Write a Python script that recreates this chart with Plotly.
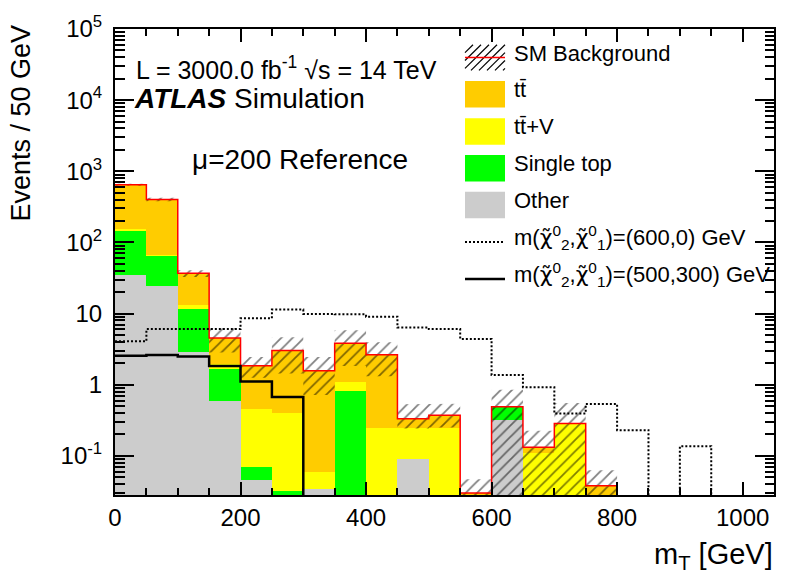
import plotly.graph_objects as go

# ---------------- data: 50 GeV bins from 0 to 1050 GeV ----------------
bin_lo = [0, 50, 100, 150, 200, 250, 300, 350, 400, 450, 500,
          550, 600, 650, 700, 750, 800, 850, 900, 950, 1000]
bin_width = 50

other = [34.8, 24.5, 2.88, 0.586, 0.046, 0.025, 0.034, 0.0, 0.0, 0.091, 0.0,
         0.0, 0.32, 0.0, 0.0, 0.0, 0.0, 0.0, 0.0, 0.0, 0.0]
single_top = [114.0, 40.8, 8.8, 1.10, 0.024, 0.0066, 0.0, 0.805, 0.0, 0.0, 0.0,
              0.0, 0.169, 0.0, 0.0, 0.0, 0.0, 0.0, 0.0, 0.0, 0.0]
ttbar_v = [5.0, 2.1, 1.7, 0.29, 0.38, 0.372, 0.026, 0.28, 0.25, 0.159, 0.25,
           0.0, 0.0, 0.109, 0.284, 0.0, 0.0, 0.0, 0.0, 0.0, 0.0]
ttbar = [493.0, 334.0, 23.4, 2.56, 1.40, 2.63, 1.51, 2.75, 2.39, 0.083, 0.121,
         0.030, 0.0, 0.023, 0.0, 0.038, 0.0, 0.0, 0.0, 0.0, 0.0]

# uncertainty on the total SM background (up / down)
unc_up = [20.0, 23.0, 4.0, 1.7, 0.6, 1.6, 0.88, 2.0, 1.32, 0.20, 0.17,
          0.017, 0.36, 0.093, 0.27, 0.025, 0.0, 0.0, 0.0, 0.0, 0.0]
unc_dn = [20.0, 23.0, 4.0, 1.7, 0.6, 1.6, 0.85, 2.0, 1.32, 0.09, 0.12,
          0.030, 0.47, 0.132, 0.284, 0.038, 0.0, 0.0, 0.0, 0.0, 0.0]

# signal benchmark points
sig_600_0 = [4.08, 6.05, 6.05, 6.05, 8.6, 11.4, 9.9, 9.75, 9.05, 6.38, 6.05,
             4.4, 1.37, 0.923, 0.395, 0.537, 0.23, 0.0, 0.137, 0.0, 0.0]
sig_500_300 = [2.55, 2.62, 2.5, 1.83, 1.11, 0.67, 0.0, 0.0, 0.0, 0.0, 0.0,
               0.0, 0.0, 0.0, 0.0, 0.0, 0.0, 0.0, 0.0, 0.0, 0.0]

y_ticks = [0.1, 1, 10, 100, 1000, 10000, 100000]
y_ticktext = ["10<sup>-1</sup>", "1", "10", "10<sup>2</sup>",
              "10<sup>3</sup>", "10<sup>4</sup>", "10<sup>5</sup>"]
x_ticks = [0, 200, 400, 600, 800, 1000]

CHI = "<span style='font-family:DejaVu Sans'>\u03c7\u0303</span>"
legend_labels = ["SM Background", "tt\u0304", "tt\u0304+V", "Single top", "Other",
                 "m(" + CHI + "<sup>0</sup><sub>2</sub>," + CHI
                 + "<sup>0</sup><sub>1</sub>)=(600,0) GeV",
                 "m(" + CHI + "<sup>0</sup><sub>2</sub>," + CHI
                 + "<sup>0</sup><sub>1</sub>)=(500,300) GeV"]

# ---------------- styling ----------------
C_TT = "#ffcc00"
C_TTV = "#ffff00"
C_ST = "#00ff00"
C_OTHER = "#cccccc"
FONT = "Liberation Sans, Arial, Helvetica, sans-serif"
FLOOR = 1e-4          # stand-in for empty bins on the log axis (off scale)

W, H = 788, 584
L, R, T, B = 115, 774, 22, 495   # plot frame in pixels


def px(x):
    return (x - L) / (R - L)


def py(y):
    return (B - y) / (B - T)


centers = [lo + bin_width / 2 for lo in bin_lo]
edges = bin_lo + [bin_lo[-1] + bin_width]
total = [o + s + v + t for o, s, v, t in zip(other, single_top, ttbar_v, ttbar)]


def step_xy(vals):
    ys = [v if v > 0 else FLOOR for v in vals]
    return edges, ys + [ys[-1]]


fig = go.Figure()

# stacked backgrounds
for name, vals, col in [("Other", other, C_OTHER), ("Single top", single_top, C_ST),
                        ("ttV", ttbar_v, C_TTV), ("tt", ttbar, C_TT)]:
    fig.add_trace(go.Bar(x=centers, y=vals, width=bin_width, name=name,
                         marker=dict(color=col, line=dict(width=0)),
                         showlegend=False, hoverinfo="skip"))

# hatched uncertainty band around the total
band_x, band_hi, band_lo = [], [], []
n_filled = max(i for i, t in enumerate(total) if t > 0) + 1
for i in range(n_filled):
    band_x += [edges[i], edges[i + 1]]
    band_hi += [total[i] + unc_up[i]] * 2
    band_lo += [max(total[i] - unc_dn[i], FLOOR)] * 2
poly_x = band_x + band_x[::-1] + [band_x[0]]
poly_y = band_hi + band_lo[::-1] + [band_hi[0]]
fig.add_trace(go.Scatter(x=poly_x, y=poly_y, mode="lines", fill="toself",
                         line=dict(color="rgba(0,0,0,0)", width=0),
                         fillcolor="rgba(0,0,0,0)",
                         fillpattern=dict(shape="/", fgcolor="black",
                                          bgcolor="rgba(0,0,0,0)", size=8, solidity=0.22),
                         showlegend=False, hoverinfo="skip"))

# total background outline
sx, sy = step_xy(total)
fig.add_trace(go.Scatter(x=sx, y=sy, mode="lines", line=dict(color="#ff0000", width=1.5, shape="hv"),
                         showlegend=False, hoverinfo="skip"))

# signals
sx, sy = step_xy(sig_600_0)
fig.add_trace(go.Scatter(x=sx, y=sy, mode="lines",
                         line=dict(color="black", width=2, shape="hv", dash="2px,2px"),
                         showlegend=False, hoverinfo="skip"))
sx, sy = step_xy(sig_500_300)
fig.add_trace(go.Scatter(x=sx, y=sy, mode="lines",
                         line=dict(color="black", width=2.5, shape="hv"),
                         showlegend=False, hoverinfo="skip"))

# ---------------- legend drawn by hand ----------------
shapes = []
annotations = []
leg_y = [51, 88.3, 126, 163.3, 200.7, 238.3, 275.7]
bx0, bx1 = 465, 505
box_h = 27


def shift(size):
    # text boxes sit slightly low relative to their glyphs
    return -0.21 * size


# hatched box with red line for the SM background
hy0, hy1 = leg_y[0] - 13, leg_y[0] + 13
hw, hh = bx1 - bx0, hy1 - hy0
c = -hh
while c < hw:
    xa, ya = c, 0.0
    xb, yb = c + hh, hh
    if xa < 0:
        ya, xa = -xa, 0.0
    if xb > hw:
        yb, xb = hh - (xb - hw), hw
    shapes.append(dict(type="line", xref="paper", yref="paper",
                       x0=px(bx0 + xa), y0=py(hy1 - ya), x1=px(bx0 + xb), y1=py(hy1 - yb),
                       line=dict(color="black", width=1.2)))
    c += 8
shapes.append(dict(type="line", xref="paper", yref="paper",
                   x0=px(bx0), x1=px(bx1), y0=py(leg_y[0]), y1=py(leg_y[0]),
                   line=dict(color="#ff0000", width=1.5)))

for yc, col in zip(leg_y[1:5], [C_TT, C_TTV, C_ST, C_OTHER]):
    shapes.append(dict(type="rect", xref="paper", yref="paper",
                       x0=px(bx0), x1=px(bx1), y0=py(yc + box_h / 2), y1=py(yc - box_h / 2),
                       fillcolor=col, line=dict(width=0)))
shapes.append(dict(type="line", xref="paper", yref="paper",
                   x0=px(bx0), x1=px(bx1), y0=py(leg_y[5]), y1=py(leg_y[5]),
                   line=dict(color="black", width=2, dash="2px,2px")))
shapes.append(dict(type="line", xref="paper", yref="paper",
                   x0=px(bx0), x1=px(bx1), y0=py(leg_y[6]), y1=py(leg_y[6]),
                   line=dict(color="black", width=2.5)))

for yc, lab in zip(leg_y, legend_labels):
    annotations.append(dict(text=lab, x=px(512), y=py(yc + shift(22)), xref="paper", yref="paper",
                            xanchor="left", yanchor="middle", showarrow=False,
                            font=dict(size=22, color="black", family=FONT)))

# ---------------- labels ----------------
labels = [
    ("L = 3000.0 fb<sup>-1</sup> \u221as = 14 TeV", 134, 67 + shift(25), 25, "left", 0),
    ("<b><i>ATLAS</i></b> Simulation", 132, 98 + shift(28), 28, "left", 0),
    ("\u03bc=200 Reference", 190, 160 + shift(28), 28, "left", 0),
    ("m<sub>T</sub> [GeV]", 775, 557, 29, "right", 0),
    ("Events / 50 GeV", 21, 118, 27, "center", -90),
]
for text, x, y, size, xa, ang in labels:
    annotations.append(dict(text=text, x=px(x), y=py(y), xref="paper", yref="paper",
                            xanchor=xa, yanchor="middle", textangle=ang, showarrow=False,
                            font=dict(size=size, color="black", family=FONT)))

minor_y = [m * 10 ** d for d in range(-2, 5) for m in range(2, 10)]

fig.update_layout(
    width=W, height=H,
    margin=dict(l=L, r=W - R, t=T, b=H - B, pad=0),
    paper_bgcolor="white", plot_bgcolor="white",
    barmode="stack", bargap=0,
    showlegend=False,
    font=dict(family=FONT, size=24, color="black"),
    shapes=shapes, annotations=annotations,
    xaxis=dict(range=[0, 1050], tickmode="array", tickvals=x_ticks,
               ticks="inside", ticklen=13, tickwidth=1.5, tickcolor="black",
               minor=dict(dtick=50, tick0=0, ticks="inside", ticklen=7,
                          tickwidth=1.5, tickcolor="black"),
               showline=True, linecolor="black", linewidth=2, mirror="allticks",
               showgrid=False, zeroline=False, ticklabelstandoff=0,
               tickfont=dict(size=24, family=FONT, color="black")),
    yaxis=dict(type="log", range=[-1.55, 5], tickmode="array",
               tickvals=y_ticks, ticktext=y_ticktext,
               ticks="inside", ticklen=19, tickwidth=1.5, tickcolor="black",
               minor=dict(tickmode="array", tickvals=minor_y, ticks="inside",
                          ticklen=9.5, tickwidth=1.5, tickcolor="black"),
               showline=True, linecolor="black", linewidth=2, mirror="allticks",
               showgrid=False, zeroline=False, ticklabelstandoff=6,
               tickfont=dict(size=24, family=FONT, color="black")),
)

fig.write_html("out.html")
